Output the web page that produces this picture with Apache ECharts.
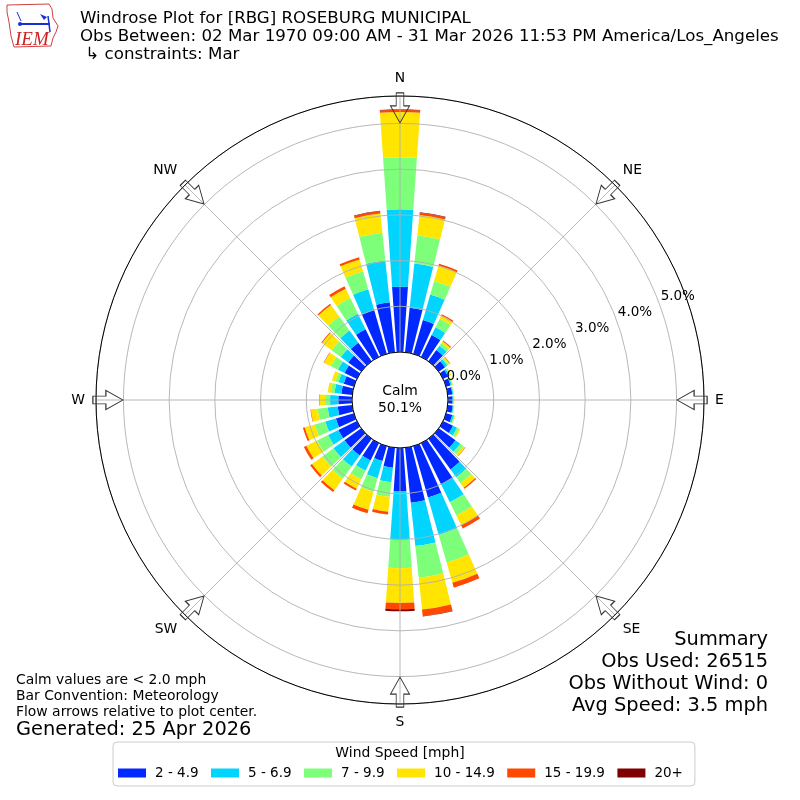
<!DOCTYPE html>
<html><head><meta charset="utf-8">
<script src="https://cdn.jsdelivr.net/npm/echarts@6/dist/echarts.min.js"></script>
<style>html,body{margin:0;padding:0;background:#fff}#c{width:800px;height:800px}</style>
</head><body><div id="c"></div>
<script>
// 36 direction bins (degrees, meteorological, clockwise from N)
const dirBins = ['0','10','20','30','40','50','60','70','80','90','100','110','120','130','140','150','160','170',
                 '180','190','200','210','220','230','240','250','260','270','280','290','300','310','320','330','340','350'];
const speedBins = ['2 - 4.9','5 - 6.9','7 - 9.9','10 - 14.9','15 - 19.9','20+'];
// percent of observations per direction bin and speed bin
const spd2to5 = [1.43,0.98,0.77,0.53,0.30,0.17,0.12,0.10,0.10,0.10,0.11,0.14,0.24,0.45,0.83,1.01,1.17,1.21,
                 0.95,0.44,0.34,0.42,0.45,0.45,0.45,0.41,0.32,0.30,0.24,0.23,0.30,0.35,0.50,0.67,1.00,1.10];
const spd5to7 = [1.69,0.97,0.58,0.19,0.12,0.06,0.04,0.03,0.02,0.02,0.02,0.04,0.10,0.13,0.21,0.43,0.85,0.95,
                 1.06,0.32,0.39,0.25,0.30,0.30,0.25,0.24,0.22,0.18,0.15,0.12,0.16,0.20,0.33,0.38,0.47,0.92];
const spd7to10 = [1.14,0.62,0.31,0.21,0.07,0.04,0.02,0.02,0.01,0.01,0.01,0.02,0.05,0.08,0.16,0.32,0.63,0.70,
                  0.62,0.32,0.31,0.21,0.33,0.30,0.27,0.24,0.22,0.11,0.08,0.07,0.17,0.25,0.38,0.38,0.41,0.61];
const spd10to15 = [0.99,0.45,0.35,0.08,0.05,0.03,0.02,0.01,0.01,0.01,0.01,0.01,0.03,0.05,0.12,0.24,0.46,0.70,
                   0.76,0.33,0.41,0.23,0.31,0.28,0.26,0.23,0.15,0.12,0.07,0.08,0.17,0.26,0.31,0.23,0.27,0.42];
const spd15to20 = [0.05,0.05,0.04,0.03,0.02,0.01,0,0,0,0,0,0,0,0.01,0.03,0.08,0.11,0.14,
                   0.14,0.06,0.08,0.04,0.05,0.05,0.06,0.04,0.01,0.01,0,0,0.01,0.02,0.03,0.06,0.05,0.05];
const spd20plus = [0.01,0.01,0,0,0,0,0,0,0,0,0,0,0,0,0,0,0,0.01,
                   0.04,0,0,0,0,0,0,0,0,0,0,0,0,0,0,0,0,0.01];
const radiusTicks = [0,1,2,3,4,5];
const compassNames = ['N','NE','E','SE','S','SW','W','NW'];
const compassAngles = [0,45,90,135,180,225,270,315];
const arrowRadius = 5.34;
const calmPct = '50.1%';

const seriesData = [spd2to5, spd5to7, spd7to10, spd10to15, spd15to20, spd20plus];
const colors = ['#0028ff','#00d4ff','#7dff7a','#ffe500','#ff4800','#800000'];
const FONT = 'DejaVu Sans';
const GRID = '#b0b0b0';

const chart = echarts.init(document.getElementById('c'), null, {renderer:'canvas'});

const barSeries = speedBins.map((name, i) => ({
  name, type:'bar', coordinateSystem:'polar', polarIndex:0, stack:'wind',
  data: seriesData[i], barCategoryGap:'20%', z:2,
  itemStyle:{color:colors[i], borderWidth:0}, emphasis:{disabled:true}
}));

const arrowSeries = {
  type:'scatter', coordinateSystem:'polar', polarIndex:1, z:6, silent:true,
  symbol:'path://M6,0L14,0L14,13L20,13L10,30L0,13L6,13Z', symbolSize:[19,30],
  itemStyle:{color:'rgba(255,255,255,0)', borderColor:'#333', borderWidth:1, opacity:1},
  data: compassAngles.map(a => ({value:[arrowRadius, a], symbolRotate:-a}))
};

function txt(text, x, y, size, align, extra) {
  return Object.assign({type:'text', x, y, silent:true, z:10,
    style:{text, fontSize:size, fontFamily:FONT, fill:'#000', textAlign:align||'left', textVerticalAlign:'middle'}}, extra||{});
}

const option = {
  animation:false,
  backgroundColor:'#fff',
  textStyle:{fontFamily:FONT},
  polar:[
    {center:['50%','50%'], radius:[48,304]},
    {center:['50%','50%'], radius:[48,304]},
    {center:['50%','50%'], radius:[68,324]}
  ],
  angleAxis:[
    {polarIndex:0, type:'category', data:dirBins, startAngle:95, clockwise:true, z:4,
     axisLine:{show:true, lineStyle:{color:'#000', width:1}}, axisTick:{show:false}, axisLabel:{show:false},
     splitLine:{show:false}, splitArea:{show:false}},
    {polarIndex:1, type:'value', min:0, max:360, interval:45, startAngle:90, clockwise:true, z:3,
     axisLine:{show:false}, axisTick:{show:false},
     axisLabel:{show:true, margin:11, fontSize:13.9, color:'#000', fontFamily:FONT,
       formatter:v => { const k = compassAngles.indexOf(v); return k >= 0 ? compassNames[k] : ''; }},
     splitLine:{show:true, lineStyle:{color:GRID, width:0.9}}, splitArea:{show:false}},
    {polarIndex:2, type:'value', min:0, max:360, startAngle:20.5, show:false}
  ],
  radiusAxis:[
    {polarIndex:0, type:'value', min:0, max:5.6, interval:1, z:3,
     axisLine:{show:false}, axisTick:{show:false}, axisLabel:{show:false},
     splitLine:{show:true, lineStyle:{color:GRID, width:0.9}}, splitArea:{show:false}},
    {polarIndex:1, type:'value', min:0, max:5.6, show:false},
    {polarIndex:2, type:'value', min:0, max:5.6, interval:1, z:5,
     axisLine:{show:false}, axisTick:{show:false}, splitLine:{show:false}, splitArea:{show:false},
     axisLabel:{show:true, margin:0, align:'center', verticalAlign:'middle', fontSize:13.5, color:'#000', fontFamily:FONT,
       formatter:v => radiusTicks.indexOf(v) >= 0 ? v.toFixed(1) + '%' : ''}}
  ],
  legend:{
    data:speedBins, left:113, top:742, orient:'horizontal', selectedMode:false,
    icon:'rect', itemWidth:28, itemHeight:9, itemGap:12.5,
    padding:[24,12,6,5], borderColor:'#cccccc', borderWidth:1, borderRadius:4, backgroundColor:'#fff',
    textStyle:{fontSize:13.5, color:'#000', fontFamily:FONT, padding:[0,0,0,4]}
  },
  series:[...barSeries, arrowSeries],
  graphic:[
    txt('Windrose Plot for [RBG] ROSEBURG MUNICIPAL', 80, 19, 16.67),
    txt('Obs Between: 02 Mar 1970 09:00 AM - 31 Mar 2026 11:53 PM America/Los_Angeles', 80, 37, 16.67),
    txt(' \u21b3 constraints: Mar', 80, 55, 16.67),
    txt('Calm', 400, 391, 13.9, 'center'),
    txt(calmPct, 400, 408, 13.9, 'center'),
    txt('Calm values are < 2.0 mph', 16, 680, 13.9),
    txt('Bar Convention: Meteorology', 16, 696, 13.9),
    txt('Flow arrows relative to plot center.', 16, 712, 13.9),
    txt('Generated: 25 Apr 2026', 16, 730, 19.4),
    txt('Summary', 768, 640, 19.4, 'right'),
    txt('Obs Used: 26515', 768, 662, 19.4, 'right'),
    txt('Obs Without Wind: 0', 768, 684, 19.4, 'right'),
    txt('Avg Speed: 3.5 mph', 768, 706, 19.4, 'right'),
    txt('Wind Speed [mph]', 400, 753, 13.9, 'center'),
    // IEM logo
    {type:'polygon', silent:true, z:10, shape:{points:[[7,5],[49,4],[52,9],[53,18],[58,26],[56,32],[53,38],[51,46],[14,47],[11,36],[9,22],[7,12]]},
     style:{fill:'#fff', stroke:'#d04040', lineWidth:1}},
    {type:'line', silent:true, z:11, shape:{x1:21,y1:24,x2:50,y2:24}, style:{stroke:'#1a2fd0', lineWidth:2}},
    {type:'line', silent:true, z:11, shape:{x1:17,y1:12,x2:21,y2:21}, style:{stroke:'#1a2fd0', lineWidth:1}},
    {type:'line', silent:true, z:11, shape:{x1:48,y1:16,x2:50,y2:32}, style:{stroke:'#1a2fd0', lineWidth:1.5}},
    {type:'polygon', silent:true, z:11, shape:{points:[[40,14],[47,17],[44,20]]}, style:{fill:'#1a2fd0'}},
    {type:'circle', silent:true, z:11, shape:{cx:20,cy:24,r:2}, style:{fill:'#1a2fd0'}},
    {type:'text', silent:true, z:11, x:15, y:40, style:{text:'IEM', fontSize:19, fontStyle:'italic', fontFamily:'Liberation Serif', fill:'#d02020', textVerticalAlign:'middle'}}
  ]
};
chart.setOption(option);
</script></body></html>
